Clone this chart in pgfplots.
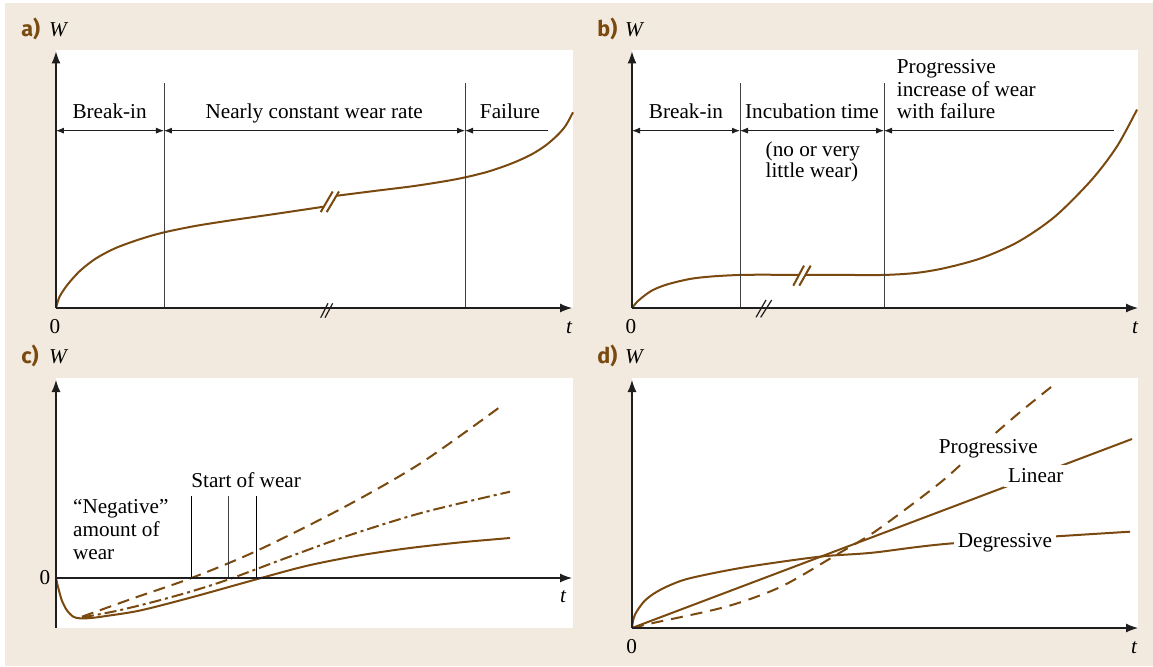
\documentclass[border=0pt]{standalone}
\usepackage{pgfplots}
\pgfplotsset{compat=1.18}
\usepackage{fontspec}
\setmainfont{Liberation Serif}
\newfontfamily\labfont{Fira Sans}
\usetikzlibrary{arrows.meta}
\definecolor{bg}{RGB}{242,234,222}
\definecolor{wb}{RGB}{122,73,15}
\definecolor{ax}{RGB}{30,30,30}
\tikzset{
 txt/.style={font=\fontsize{10.6}{11.5}\selectfont, inner sep=0pt},
 axarrow/.style={ax, line width=0.6pt, -{Latex[length=6pt,width=4.5pt]}},
 dimarrow/.style={ax, line width=0.4pt, {Latex[length=4pt,width=3pt]}-{Latex[length=4pt,width=3pt]}},
 larrow/.style={ax, line width=0.4pt, {Latex[length=4pt,width=3pt]}-},
 sep/.style={black!75, line width=0.4pt},
 curve/.style={wb, line width=1pt},
 brk/.style={ax, line width=0.6pt},
 plab/.style={font=\labfont\bfseries\fontsize{10.8}{12}\selectfont, text=wb, inner sep=0pt, anchor=base west},
 wlab/.style={font=\fontsize{10.6}{12}\selectfont\itshape, inner sep=0pt, anchor=base},
}
\pgfplotsset{panel/.style={scale only axis, axis lines=none, clip=false, ticks=none, anchor=south west}}
\begin{document}
\begin{tikzpicture}
\fill[white] (0,0) rectangle (576.5pt,-333pt);
\fill[bg] (2.5pt,-1.5pt) rectangle (576.5pt,-333pt);

% ---------------- panel a
\begin{axis}[panel, at={(28pt,-154pt)}, width=258.5pt, height=128.5pt,
  xmin=0, xmax=517, ymin=0, ymax=257]
\fill[white] (0,0) rectangle (517,257);
\addplot[curve, smooth, tension=0.5] coordinates {(0,0) (3,10) (8,18.5) (15,27.5) (25,38) (40,49.5) (60,60) (85,69) (108,75.5) (140,82) (175,87.5) (220,94) (267,101)};
\addplot[curve, smooth, tension=0.5] coordinates {(280.4,112) (320,117) (360,122) (400,128.5) (430,135.5) (455,144) (475,153) (490,162.5) (502,173) (510,182.5) (517,195.3)};
\draw[wb, line width=1pt] (264.7,95.7) -- (276.7,116.3);
\draw[wb, line width=1pt] (270.7,95.7) -- (283,116.3);
\draw[sep] (108,0) -- (108,225);
\draw[sep] (409,0) -- (409,225);
\draw[dimarrow] (0,177) -- (108,177);
\draw[dimarrow] (108,177) -- (409,177);
\draw[larrow] (409,177) -- (492,177);
\node[txt, anchor=base] at (53.6,189) {Break-in};
\node[txt, anchor=base] at (258.2,189) {Nearly constant wear rate};
\node[txt, anchor=base] at (454,189) {Failure};
\draw[axarrow] (0,0) -- (0,256);
\draw[axarrow] (0,0) -- (516,0);
\draw[brk] (264.7,-9.7) -- (272,4.7);
\draw[brk] (269,-9.7) -- (276.7,4.7);
\node[plab] at (-35,271) {a)};
\node[wlab] at (2,271) {W};
\node[txt, anchor=base] at (-1,-25) {0};
\node[wlab] at (513,-25) {t};
\end{axis}

% ---------------- panel b
\begin{axis}[panel, at={(316pt,-154pt)}, width=253pt, height=128.5pt,
  xmin=0, xmax=506, ymin=0, ymax=257]
\fill[white] (0,0) rectangle (506,257);
\addplot[curve, smooth, tension=0.5] coordinates {(0,0) (5,6) (12,12) (21,18) (35,23.5) (58,29) (80,31.5) (108,33) (135,33.2) (167,33)};
\addplot[curve, smooth, tension=0.5] coordinates {(173,33) (210,33) (252,33) (284,35) (313.5,40) (350,50) (386.6,66.3) (423,91.3) (459.7,128) (485,161.3) (505,198)};
\draw[wb, line width=1pt] (161.3,22.3) -- (172,42.3);
\draw[wb, line width=1pt] (167.3,22.3) -- (178.7,42.3);
\draw[sep] (108,0) -- (108,225);
\draw[sep] (252,0) -- (252,225);
\draw[dimarrow] (0,177) -- (108,177);
\draw[dimarrow] (108,177) -- (252,177);
\draw[larrow] (252,177) -- (482,177);
\node[txt, anchor=base] at (54,189) {Break-in};
\node[txt, anchor=base] at (180,189) {Incubation time};
\node[txt, anchor=base west] at (133.3,151.3) {(no or very};
\node[txt, anchor=base west] at (133.3,130.7) {little wear)};
\node[txt, anchor=base west] at (264.5,234) {Progressive};
\node[txt, anchor=base west] at (264.5,211.5) {increase of wear};
\node[txt, anchor=base west] at (264.5,189) {with failure};
\draw[axarrow] (0,0) -- (0,256);
\draw[axarrow] (0,0) -- (506,0);
\draw[brk] (124,-9.3) -- (134,8);
\draw[brk] (128.7,-9.3) -- (139.7,8);
\node[plab] at (-35,271) {b)};
\node[wlab] at (2,271) {W};
\node[txt, anchor=base] at (-1,-25) {0};
\node[wlab] at (503,-25) {t};
\end{axis}

% ---------------- panel c
\begin{axis}[panel, at={(28pt,-314pt)}, width=258.5pt, height=125pt,
  xmin=0, xmax=517, ymin=-50, ymax=200]
\fill[white] (0,-50) rectangle (517,200);
\addplot[curve, smooth, tension=0.5] coordinates {(0,0) (2,-8.7) (5.7,-22) (10.7,-32) (17.3,-38.7) (24,-40.3) (35,-40) (50,-38) (84,-32.5) (135,-19.5) (200.4,-1.3) (250,12) (300,22) (350,29.5) (403,35.5) (454,40)};
\addplot[curve, smooth, tension=0.5, dash pattern=on 6pt off 2pt on 1.5pt off 2pt] coordinates {(26,-39.5) (60,-33) (97,-24) (135,-13.5) (172.9,-1.3) (230,20) (288,41) (365,65) (454,86.3)};
\addplot[curve, smooth, tension=0.5, dash pattern=on 6pt off 3.5pt] coordinates {(26,-38.7) (78,-20) (135.4,0) (200.4,27) (288.4,71) (365,115) (445.3,172)};
\draw[sep, black] (135.4,0) -- (135.4,82);
\draw[sep] (172.9,0) -- (172.9,82);
\draw[sep, black] (200.4,0) -- (200.4,82);
\node[txt, anchor=base west] at (135,90.7) {Start of wear};
\node[txt, anchor=base west] at (16.7,64.7) {“Negative”};
\node[txt, anchor=base west] at (16.7,41.3) {amount of};
\node[txt, anchor=base west] at (16.7,18.7) {wear};
\draw[axarrow] (0,-50) -- (0,198);
\draw[axarrow] (0,0) -- (516,0);
\node[plab] at (-35,214.7) {c)};
\node[wlab] at (2,214.7) {W};
\node[txt, anchor=base] at (-11,-6) {0};
\node[wlab] at (507,-24.7) {t};
\end{axis}

% ---------------- panel d
\begin{axis}[panel, at={(316pt,-314pt)}, width=253pt, height=125pt,
  xmin=0, xmax=506, ymin=0, ymax=250]
\fill[white] (0,0) rectangle (506,250);
\addplot[curve] coordinates {(0,0) (500,189)};
\addplot[curve, smooth, tension=0.5] coordinates {(0,0) (1,7) (3,13.5) (7,20) (13,27.5) (22,34.5) (35,41.5) (57.6,49.7) (112.5,60.7) (187.4,71.3) (240.4,75.3) (320.8,84.7) (498,96.3)};
\addplot[curve, smooth, tension=0.5, dash pattern=on 6pt off 4pt] coordinates {(0,0) (21,5) (94,21.3) (149,41.3) (204,73) (240.4,94.7) (277,121.3) (313.5,149.7) (350,183) (386.6,214.7) (419.5,241.3)};
\node[txt, anchor=base, fill=white, inner sep=2pt] at (356.4,174.7) {Progressive};
\node[txt, anchor=base, fill=white, inner sep=2pt] at (403.8,145.3) {Linear};
\node[txt, anchor=base, fill=white, inner sep=2pt] at (372.9,80.7) {Degressive};
\draw[axarrow] (0,0) -- (0,248);
\draw[axarrow] (0,0) -- (506,0);
\node[plab] at (-35,264.7) {d)};
\node[wlab] at (2,264.7) {W};
\node[txt, anchor=base] at (-0.3,-25) {0};
\node[wlab] at (502,-25) {t};
\end{axis}
\end{tikzpicture}
\end{document}
